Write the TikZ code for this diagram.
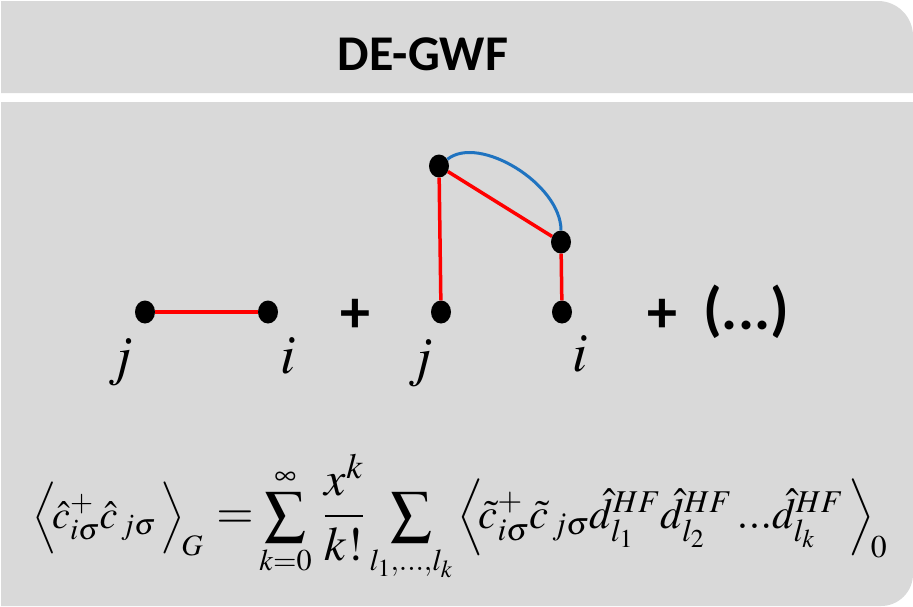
\documentclass[tikz,border=0pt]{standalone}
\usepackage{mathptmx}
\usepackage[no-math]{fontspec}
\usepackage{graphicx}
\usetikzlibrary{shapes.geometric}
\newfontfamily\calib{Carlito}
\definecolor{panelgray}{HTML}{D9D9D9}
\definecolor{arcblue}{HTML}{1F73C0}
\definecolor{edgered}{HTML}{FF0000}
\tikzset{
  vdot/.style={ellipse, fill=black, inner sep=0pt, minimum width=20pt, minimum height=23pt},
  redge/.style={draw=edgered, line width=3.5pt},
  bedge/.style={draw=arcblue, line width=3pt},
  bigsym/.style={font=\calib\bfseries\fontsize{60}{70}\selectfont, inner sep=0pt},
  lbl/.style={font=\fontsize{55}{60}\selectfont, inner sep=0pt, anchor=base},
  eqpart/.style={font=\fontsize{48}{58}\selectfont, inner sep=0pt},
}
\begin{document}
\begin{tikzpicture}[x=1pt,y=-1pt]
\useasboundingbox (0,0) rectangle (913,606);
% panels
\fill[panelgray] (1,1) -- (878,1) .. controls (897.3,1) and (913,16.7) .. (913,36) -- (913,93) -- (1,93) -- cycle;
\fill[panelgray] (1,102) -- (913,102) -- (913,574) .. controls (913,591.7) and (898.7,606) .. (881,606) -- (1,606) -- cycle;
% title
\node[font=\calib\bfseries\fontsize{50}{60}\selectfont, inner sep=0pt] (title) at (423,54) {DE-GWF};
% first diagram
\node[vdot] (j1) at (145,312) {};
\node[vdot] (i1) at (268,312) {};
\draw[redge] (j1) -- (i1);
\node[lbl] (lj1) at (121,374) {$j$};
\node[lbl] (li1) at (288,373) {$i$};
\node[bigsym] (plus1) at (355,316) {+};
% second diagram
\node[vdot] (j2) at (441,312) {};
\node[vdot] (top) at (439,166) {};
\node[vdot] (mid) at (561,242) {};
\node[vdot] (i2) at (562,312) {};
\draw[redge] (top) -- (j2);
\draw[redge] (top) -- (mid);
\draw[redge] (mid) -- (i2);
\draw[bedge] (top) .. controls +(40,-32) and +(0,-58) .. (mid);
\node[lbl] (lj2) at (421,375) {$j$};
\node[lbl] (li2) at (580,371) {$i$};
\node[bigsym] (plus2) at (662,316) {+};
\node[bigsym] (dots) at (746,312) {(...)};
% formula, in parts
\node[eqpart, anchor=base west] (lhs) at (32,528)
  {\resizebox{171pt}{!}{$\Bigl\langle\!\hat{c}^{+}_{i\sigma}\hat{c}_{\,j\sigma}\,\Bigr\rangle_{\!G}$}};
\node[eqpart, anchor=base] (eqs) at (235,528) {$=$};
\node[eqpart, anchor=base] (sumk) at (285.5,528)
  {\scalebox{0.85}{$\displaystyle\sum_{k=0}^{\infty}$}};
\node[eqpart, anchor=base] (frac) at (344,528) {$\displaystyle\frac{x^{k}}{k!}$};
\node[eqpart, anchor=base] (suml) at (411,528)
  {\scalebox{0.85}{$\displaystyle\sum_{l_1,\ldots,l_k}$}};
\node[eqpart, anchor=base west] (rhs) at (457,528)
  {\resizebox{430pt}{!}{$\Bigl\langle\!\tilde{c}^{+}_{i\sigma}\tilde{c}_{\,j\sigma}\hat{d}^{HF}_{l_1}\hat{d}^{HF}_{l_2}\,{.}{.}{.}\hat{d}^{HF}_{l_k}\,\Bigr\rangle_{\!0}$}};
\end{tikzpicture}
\end{document}
